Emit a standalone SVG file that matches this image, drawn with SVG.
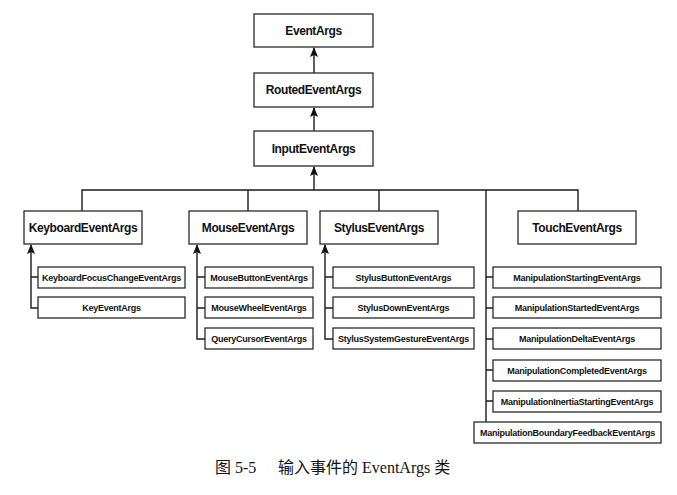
<svg xmlns="http://www.w3.org/2000/svg" width="677" height="495" viewBox="0 0 677 495">
<style>
.box{fill:#fff;stroke:#2a2a2a;stroke-width:1.3}
.t{font-family:"Liberation Sans",Arial,sans-serif;font-weight:bold;font-size:12px;letter-spacing:-0.4px;fill:#111;text-anchor:middle}
.s{font-family:"Liberation Sans",Arial,sans-serif;font-weight:bold;font-size:9px;letter-spacing:-0.25px;fill:#111;text-anchor:middle}
.ln{fill:none;stroke:#1a1a1a;stroke-width:1.4}
.ah{fill:#111}
.cap{font-family:"Liberation Serif","Noto Sans CJK SC",serif;font-size:16px;fill:#111}
</style>
<rect width="677" height="495" fill="#fff"/>
<g id="connectors">
<path class="ln" d="M314,73 V48"/>
<path class="ah" d="M314,47 L318,57 L314,55 L310,57 Z"/>
<path class="ln" d="M314,131 V108"/>
<path class="ah" d="M314,107 L318,117 L314,115 L310,117 Z"/>
<path class="ln" d="M314,190 V167"/>
<path class="ah" d="M314,166 L318,176 L314,174 L310,176 Z"/>
<path class="ln" d="M82,211 V190 H578 V211"/>
<path class="ln" d="M248,190 V211"/>
<path class="ln" d="M379,190 V211"/>
<path class="ln" d="M486,190 V422"/>
<path class="ln" d="M486,277 H493 M486,308 H493 M486,339 H493 M486,370 H493 M486,401 H493"/>
<path class="ln" d="M31,245 V308 H38 M31,277 H38"/>
<path class="ah" d="M31,244 L35,254 L31,252 L27,254 Z"/>
<path class="ln" d="M197,245 V339 H205 M197,277 H205 M197,308 H205"/>
<path class="ah" d="M197,244 L201,254 L197,252 L193,254 Z"/>
<path class="ln" d="M325,245 V339 H333 M325,277 H333 M325,308 H333"/>
<path class="ah" d="M325,244 L329,254 L325,252 L321,254 Z"/>
</g>
<g id="EventArgs"><rect class="box" x="254" y="14" width="119" height="33"/><text class="t" x="313.5" y="34.8">EventArgs</text></g>
<g id="RoutedEventArgs"><rect class="box" x="254" y="73" width="119" height="34"/><text class="t" x="313.5" y="94.3">RoutedEventArgs</text></g>
<g id="InputEventArgs"><rect class="box" x="254" y="131" width="119" height="35"/><text class="t" x="313.5" y="152.8">InputEventArgs</text></g>
<g id="KeyboardEventArgs"><rect class="box" x="24" y="211" width="118" height="33"/><text class="t" x="83" y="231.8">KeyboardEventArgs</text></g>
<g id="MouseEventArgs"><rect class="box" x="189" y="211" width="118" height="33"/><text class="t" x="248" y="231.8">MouseEventArgs</text></g>
<g id="StylusEventArgs"><rect class="box" x="320" y="211" width="118" height="33"/><text class="t" x="379" y="231.8">StylusEventArgs</text></g>
<g id="TouchEventArgs"><rect class="box" x="518" y="211" width="118" height="33"/><text class="t" x="577" y="231.8">TouchEventArgs</text></g>
<g id="KeyboardFocusChangeEventArgs"><rect class="box" x="38" y="267" width="147" height="21"/><text class="s" x="111.5" y="280.8">KeyboardFocusChangeEventArgs</text></g>
<g id="KeyEventArgs"><rect class="box" x="38" y="297" width="147" height="21"/><text class="s" x="111.5" y="310.8">KeyEventArgs</text></g>
<g id="MouseButtonEventArgs"><rect class="box" x="205" y="267" width="108" height="21"/><text class="s" x="259" y="280.8">MouseButtonEventArgs</text></g>
<g id="MouseWheelEventArgs"><rect class="box" x="205" y="297" width="108" height="21"/><text class="s" x="259" y="310.8">MouseWheelEventArgs</text></g>
<g id="QueryCursorEventArgs"><rect class="box" x="205" y="328" width="108" height="21"/><text class="s" x="259" y="341.8">QueryCursorEventArgs</text></g>
<g id="StylusButtonEventArgs"><rect class="box" x="333" y="267" width="141" height="21"/><text class="s" x="403.5" y="280.8">StylusButtonEventArgs</text></g>
<g id="StylusDownEventArgs"><rect class="box" x="333" y="297" width="141" height="21"/><text class="s" x="403.5" y="310.8">StylusDownEventArgs</text></g>
<g id="StylusSystemGestureEventArgs"><rect class="box" x="333" y="328" width="141" height="21"/><text class="s" x="403.5" y="341.8">StylusSystemGestureEventArgs</text></g>
<g id="ManipulationStartingEventArgs"><rect class="box" x="493" y="267" width="168" height="21"/><text class="s" x="577" y="280.8">ManipulationStartingEventArgs</text></g>
<g id="ManipulationStartedEventArgs"><rect class="box" x="493" y="297" width="168" height="21"/><text class="s" x="577" y="310.8">ManipulationStartedEventArgs</text></g>
<g id="ManipulationDeltaEventArgs"><rect class="box" x="493" y="328" width="168" height="21"/><text class="s" x="577" y="341.8">ManipulationDeltaEventArgs</text></g>
<g id="ManipulationCompletedEventArgs"><rect class="box" x="493" y="360" width="168" height="21"/><text class="s" x="577" y="373.8">ManipulationCompletedEventArgs</text></g>
<g id="ManipulationInertiaStartingEventArgs"><rect class="box" x="493" y="391" width="168" height="21"/><text class="s" x="577" y="404.8">ManipulationInertiaStartingEventArgs</text></g>
<g id="ManipulationBoundaryFeedbackEventArgs"><rect class="box" x="474" y="422" width="187" height="21"/><text class="s" x="567.5" y="435.8">ManipulationBoundaryFeedbackEventArgs</text></g>
<g id="caption">
<text class="cap" x="215" y="473">图 5-5</text>
<text class="cap" x="278" y="473">输入事件的 EventArgs 类</text>
</g>
</svg>
